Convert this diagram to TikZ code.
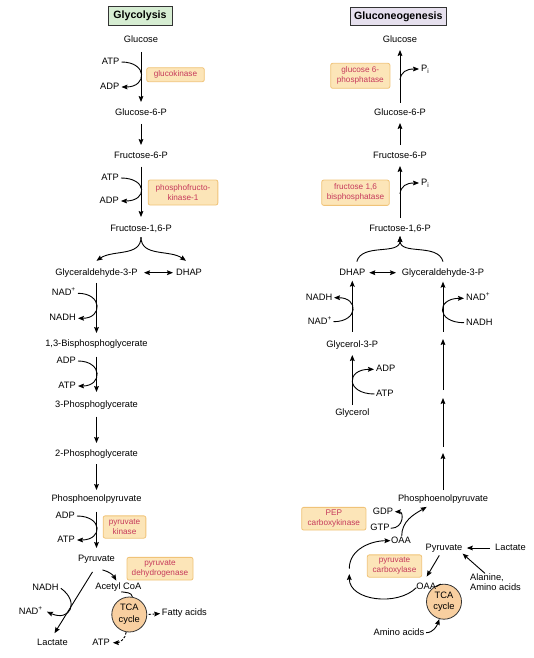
\documentclass[tikz,border=0pt]{standalone}
\usepackage{fontspec}
\setmainfont{Liberation Sans}
\usetikzlibrary{arrows.meta}
\definecolor{enzfill}{HTML}{FCE5B8}
\definecolor{enzdraw}{HTML}{F0C378}
\definecolor{enztext}{HTML}{C63A5C}
\definecolor{glyfill}{HTML}{D6EDD2}
\definecolor{gngfill}{HTML}{E6E0EE}
\definecolor{tcafill}{HTML}{F8CFA0}
\tikzset{
 lbl/.style={font=\fontsize{9.3}{11}\selectfont, inner sep=0pt, text height=6.8pt, text depth=2pt},
 enz/.style={draw=enzdraw, fill=enzfill, rounded corners=2pt, line width=0.8pt, text=enztext, font=\fontsize{8.2}{10}\selectfont, align=center, inner sep=0pt},
 hdr/.style={draw=black!80, line width=0.9pt, font=\bfseries\fontsize{10.6}{12}\selectfont, inner sep=0pt},
 arr/.style={-{Stealth[length=6pt,width=4.8pt,inset=1pt]}, line width=0.9pt},
 darr/.style={{Stealth[length=6pt,width=4.8pt,inset=1pt]}-{Stealth[length=6pt,width=4.8pt,inset=1pt]}, line width=0.9pt},
 ln/.style={line width=0.9pt},
 dsh/.style={dash pattern=on 2.5pt off 1.5pt},
 tcac/.style={circle, draw=black!80, fill=tcafill, line width=0.8pt, minimum size=35pt, inner sep=0pt, align=center, font=\fontsize{9.3}{11.6}\selectfont},
}
\begin{document}
\begin{tikzpicture}[x=1pt,y=1pt]
\useasboundingbox (0,0) rectangle (534,-658);
% headers
\node[hdr, fill=glyfill, minimum width=64pt, minimum height=19pt] (hgly) at (140,-16.2) {Glycolysis};
\node[hdr, fill=gngfill, minimum width=96.7pt, minimum height=18pt] (hgng) at (398.3,-16.7) {Gluconeogenesis};

% ---------- Glycolysis ----------
\node[lbl] (glc) at (141,-40) {Glucose};
\node[lbl] (g6p) at (141,-113) {Glucose-6-P};
\node[lbl] (f6p) at (141,-156) {Fructose-6-P};
\node[lbl] (f16p) at (141,-229) {Fructose-1,6-P};
\node[lbl] (g3p) at (96.5,-272.7) {Glyceraldehyde-3-P};
\node[lbl] (dhap) at (189,-272.7) {DHAP};
\node[lbl] (bpg) at (96.5,-344.3) {1,3-Bisphosphoglycerate};
\node[lbl] (pga) at (96.5,-405) {3-Phosphoglycerate};
\node[lbl] (pgb) at (96.5,-454) {2-Phosphoglycerate};
\node[lbl] (pep) at (96.5,-499.3) {Phosphoenolpyruvate};
\node[lbl] (pyr) at (96.5,-559.3) {Pyruvate};
\node[lbl] (acoa) at (118.3,-586.7) {Acetyl CoA};
\node[tcac] (tca) at (129.3,-614.5) {TCA\\cycle};
\node[lbl, anchor=west] (fa) at (161.7,-613.5) {Fatty acids};
\node[lbl] (atpx) at (101,-642.7) {ATP};
\node[lbl] (lac) at (52.5,-643.3) {Lactate};
\node[lbl] (nadhx) at (45.5,-588.3) {NADH};
\node[lbl] (nadx) at (30.8,-611.7) {NAD\textsuperscript{+}};

\node[lbl, anchor=east] (atp1) at (119.5,-62) {ATP};
\node[lbl, anchor=east] (adp1) at (119.5,-87) {ADP};
\node[lbl, anchor=east] (atp2) at (119,-178) {ATP};
\node[lbl, anchor=east] (adp2) at (119,-201) {ADP};
\node[lbl, anchor=east] (nad1) at (76,-293.3) {NAD\textsuperscript{+}};
\node[lbl, anchor=east] (nadh1) at (76,-318.3) {NADH};
\node[lbl, anchor=east] (adp3) at (76,-361) {ADP};
\node[lbl, anchor=east] (atp3) at (76,-386) {ATP};
\node[lbl, anchor=east] (adp4) at (75,-516) {ADP};
\node[lbl, anchor=east] (atp4) at (75,-540) {ATP};

\node[enz, minimum width=57.6pt, minimum height=14pt] (e1) at (175.5,-74.7) {glucokinase};
\node[enz, minimum width=69.7pt, minimum height=25pt] (e2) at (183,-192.5) {phosphofructo-\\kinase-1};
\node[enz, minimum width=42.7pt, minimum height=22.3pt] (e3) at (124.5,-527) {pyruvate\\kinase};
\node[enz, minimum width=66pt, minimum height=22.7pt] (e4) at (160,-568.7) {pyruvate\\dehydrogenase};

\draw[arr, shorten <=12pt, shorten >=11pt] (glc.center) -- (g6p.center);
\draw[arr, shorten <=11pt, shorten >=11pt] (g6p.center) -- (f6p.center);
\draw[arr, shorten <=10.7pt, shorten >=12pt] (f6p.center) -- (f16p.center);
\draw[arr] ([yshift=-3.6pt]f16p.south) to[out=-90,in=35] ([yshift=7.3pt]g3p.north);
\draw[arr] ([yshift=-3.6pt]f16p.south) to[out=-90,in=145] ([xshift=-3pt,yshift=7.3pt]dhap.north);
\draw[darr, shorten <=47.5pt, shorten >=16pt] (g3p.center) -- (dhap.center);
\draw[arr, shorten <=10.2pt, shorten >=11.3pt] (g3p.center) -- (bpg.center);
\draw[arr, shorten <=12.4pt, shorten >=13pt] (bpg.center) -- (pga.center);
\draw[arr, shorten <=11.7pt, shorten >=11pt] (pga.center) -- (pgb.center);
\draw[arr, shorten <=10pt, shorten >=9.3pt] (pgb.center) -- (pep.center);
\draw[arr, shorten <=12.4pt, shorten >=11.3pt] (pep.center) -- (pyr.center);

\draw[arr] ([xshift=2pt]atp1.east) .. controls +(26,0) and +(26,0) .. ([xshift=2pt]adp1.east);
\draw[arr] ([xshift=2pt]atp2.east) .. controls +(26.7,0) and +(26.7,0) .. ([xshift=2pt]adp2.east);
\draw[arr] ([xshift=2pt]nad1.east) .. controls +(24.7,0) and +(24.7,0) .. ([xshift=2pt]nadh1.east);
\draw[arr] ([xshift=2pt]adp3.east) .. controls +(24.7,0) and +(24.7,0) .. ([xshift=2pt]atp3.east);
\draw[arr] ([xshift=2pt]adp4.east) .. controls +(26,0) and +(26,0) .. ([xshift=2pt]atp4.east);

\draw[arr] ([xshift=6pt,yshift=-6pt]pyr.south) to[out=-15,in=120] ([xshift=-2pt,yshift=1.5pt]acoa.north);
\draw[arr] ([xshift=-4pt,yshift=-8pt]pyr.south) -- ([xshift=2pt,yshift=5.5pt]lac.north);
\draw[arr] ([xshift=2pt]nadhx.east) .. controls (80,-602) and (70,-622) .. ([xshift=4pt]nadx.east);
\draw[ln] ([xshift=3pt,yshift=-0.5pt]acoa.south) to[out=-10,in=100] (tca.80);
\draw[arr, dsh, shorten <=1.5pt, shorten >=1.5pt] (tca.east) -- (fa.west);
\draw[arr, dsh] (tca.-100) to[out=-95,in=0] ([xshift=3pt]atpx.east);

% ---------- Gluconeogenesis ----------
\node[lbl] (glcR) at (400,-40.3) {Glucose};
\node[lbl] (g6pR) at (400,-112.7) {Glucose-6-P};
\node[lbl] (f6pR) at (400,-156) {Fructose-6-P};
\node[lbl] (f16pR) at (400,-229) {Fructose-1,6-P};
\node[lbl, anchor=west] (pi1) at (421,-69) {P\textsubscript{i}};
\node[lbl, anchor=west] (pi2) at (421,-183) {P\textsubscript{i}};
\node[lbl] (dhapR) at (352.3,-272.7) {DHAP};
\node[lbl] (g3pR) at (443,-272.7) {Glyceraldehyde-3-P};
\node[lbl, anchor=east] (nadhR1) at (332.5,-297.7) {NADH};
\node[lbl, anchor=east] (nadR1) at (332,-321.7) {NAD\textsuperscript{+}};
\node[lbl] (gly3p) at (352.3,-345) {Glycerol-3-P};
\node[lbl, anchor=west] (adpR) at (376,-369.3) {ADP};
\node[lbl, anchor=west] (atpR) at (376,-394) {ATP};
\node[lbl] (glyc) at (352.3,-412.7) {Glycerol};
\node[lbl, anchor=west] (nadR2) at (466,-298.3) {NAD\textsuperscript{+}};
\node[lbl, anchor=west] (nadhR2) at (466,-322.7) {NADH};
\node[lbl] (pepR) at (443,-499.3) {Phosphoenolpyruvate};
\node[lbl] (gdp) at (383,-511.7) {GDP};
\node[lbl] (gtp) at (380,-528.3) {GTP};
\node[lbl] (oaaU) at (401,-540.7) {OAA};
\node[lbl] (pyrR) at (444,-548) {Pyruvate};
\node[lbl, anchor=west] (lacR) at (495,-548) {Lactate};
\node[font=\fontsize{9.3}{10.6}\selectfont, align=left, anchor=north west, inner sep=0pt] (ala) at (470,-573.4) {Alanine,\\Amino acids};
\node[tcac] (tcaR) at (444,-601.7) {TCA\\cycle};
\node[lbl] (oaaL) at (426.3,-586.7) {OAA};
\node[lbl] (amR) at (399,-632.7) {Amino acids};

\node[enz, minimum width=59.3pt, minimum height=25pt] (e5) at (360.3,-75.8) {glucose 6-\\phosphatase};
\node[enz, minimum width=67.6pt, minimum height=25.3pt] (e6) at (355.5,-192.7) {fructose 1,6\\bisphosphatase};
\node[enz, minimum width=64.3pt, minimum height=22.7pt] (e7) at (333.8,-518.7) {PEP\\carboxykinase};
\node[enz, minimum width=54.4pt, minimum height=22.3pt] (e8) at (394.5,-566) {pyruvate\\carboxylase};

\draw[arr, shorten <=9.7pt, shorten >=9.7pt] (g6pR.center) -- (glcR.center);
\draw[arr, shorten <=11pt, shorten >=10.3pt] (f6pR.center) -- (g6pR.center);
\draw[arr, shorten <=11pt, shorten >=10pt] (f16pR.center) -- (f6pR.center);
\coordinate (pj1) at (400,-80);
\coordinate (pj2) at (400,-194);
\draw[arr] (pj1) .. controls (401,-72) and (406,-69) .. ([xshift=-2pt]pi1.west);
\draw[arr] (pj2) .. controls (401,-186) and (406,-183) .. ([xshift=-2pt]pi2.west);

\draw[arr] ([xshift=4.5pt,yshift=6.5pt]dhapR.north) to[out=75,in=-90] ([yshift=-2.5pt]f16pR.south);
\draw[arr] ([yshift=6.5pt]g3pR.north) to[out=105,in=-90] ([yshift=-2.5pt]f16pR.south);
\draw[darr, shorten <=17pt, shorten >=47pt] (dhapR.center) -- (g3pR.center);

\draw[arr, shorten <=7.7pt, shorten >=10pt] (glyc.center) -- (gly3p.center);
\draw[arr, shorten <=13.3pt, shorten >=8pt] (gly3p.center) -- (dhapR.center);
\draw[arr] ([xshift=-1.5pt]atpR.west) .. controls +(-28.5,0) and +(-28.5,0) .. ([xshift=-2pt]adpR.west);
\draw[arr] ([xshift=1.5pt]nadR1.east) .. controls +(25,0) and +(25,0) .. ([xshift=1.5pt]nadhR1.east);

\coordinate (s1a) at (443,-331.7);
\coordinate (s2a) at (443,-390);
\coordinate (s2b) at (443,-339);
\coordinate (s3a) at (443,-447);
\coordinate (s3b) at (443,-398);
\coordinate (s4b) at (443,-453);
\draw[arr, shorten >=9pt] (s1a) -- (g3pR.center);
\draw[arr] (s2a) -- (s2b);
\draw[arr] (s3a) -- (s3b);
\draw[arr, shorten <=9.3pt] (pepR.center) -- (s4b);
\draw[arr] ([xshift=-2pt]nadhR2.west) .. controls +(-28,0) and +(-28,0) .. ([xshift=-2pt]nadR2.west);

\draw[arr] ([xshift=0.7pt]oaaU.north) to[out=90,in=-150] ([xshift=-16.3pt,yshift=-3pt]pepR.south);
\draw[arr] ([xshift=1pt]gtp.east) .. controls (404,-528.3) and (404,-511.7) .. ([xshift=1.5pt]gdp.east);
\coordinate (lm1) at (349.3,-574);
\coordinate (lm2) at (349.3,-568.5);
\draw[arr] ([yshift=-1pt]oaaL.west) to[out=-135,in=-90] (lm1);
\draw[arr] (lm2) to[out=90,in=180] ([xshift=-0.5pt]oaaU.west);
\draw[arr] ([xshift=-4.7pt,yshift=-2.8pt]pyrR.south) -- ([xshift=0.4pt,yshift=5.5pt]oaaL.north);
\draw[arr, shorten <=5pt, shorten >=4.3pt] (lacR.west) -- (pyrR.east);
\draw[arr] ([xshift=15pt]ala.north west) -- ([yshift=-1pt]pyrR.south east);
\draw[arr] ([xshift=1.5pt]amR.east) to[out=0,in=-110] (tcaR.-105);
\draw[ln] (oaaL.east) to[out=10,in=170] (tcaR.100);
\end{tikzpicture}
\end{document}
